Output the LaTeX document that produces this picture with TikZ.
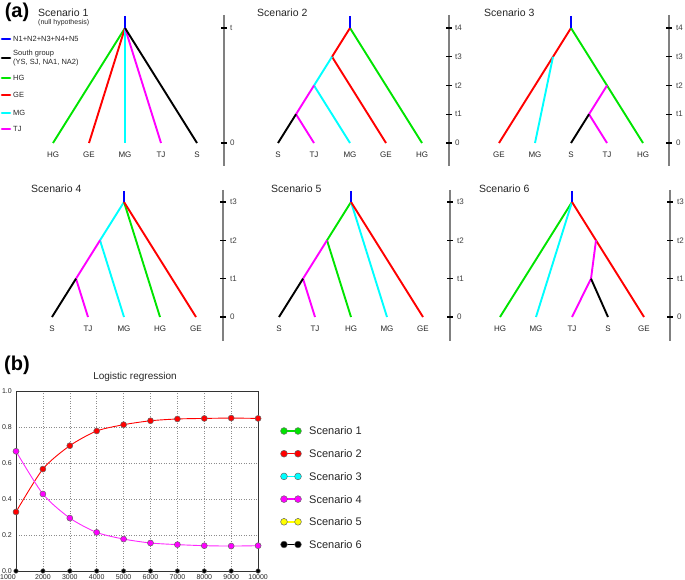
\documentclass[tikz,border=0pt]{standalone}
\usepackage{fontspec}
\setmainfont{Liberation Sans}
\usetikzlibrary{calc, positioning}
\definecolor{brgreen}{RGB}{0, 228, 0}
\definecolor{brred}{RGB}{255, 0, 0}
\definecolor{brcyan}{RGB}{0, 255, 255}
\definecolor{brmag}{RGB}{255, 0, 255}
\definecolor{brblue}{RGB}{0, 0, 255}
\definecolor{brylw}{RGB}{255, 255, 0}
\definecolor{axgray}{RGB}{128, 128, 128}
\tikzset{
  branch/.style={line width=1.9pt},
  swatch/.style={line width=2.6pt, line cap=round},
  axisline/.style={axgray, line width=1.2pt},
  tickmark/.style={black, line width=1.3pt},
  leaflab/.style={font=\fontsize{8}{9}\selectfont, inner sep=0pt, text=black!85},
  tlab/.style={font=\fontsize{8}{9}\selectfont, anchor=west, inner sep=0pt, text=black!75},
  ttl/.style={font=\fontsize{10.5}{12}\selectfont, anchor=west, inner sep=0pt, text=black!85},
  leg/.style={font=\fontsize{7.5}{8.5}\selectfont, anchor=west, inner sep=0pt, align=left, text=black!85},
  panel/.style={font=\fontsize{20}{22}\selectfont\bfseries, inner sep=0pt},
  gridline/.style={black!45, line width=0.5pt, dotted},
  frameline/.style={black!80, line width=0.9pt},
  ticklab/.style={font=\fontsize{7}{8}\selectfont, inner sep=0pt, text=black!85},
  dot/.style={circle, draw=black!60, line width=0.5pt, minimum size=6pt, inner sep=0pt},
  ldot/.style={circle, draw=black!60, line width=0.5pt, minimum size=6.8pt, inner sep=0pt},
  scen/.style={font=\fontsize{11}{13}\selectfont, inner sep=0pt, text=black!85}
}

\begin{document}
\begin{tikzpicture}[x=1pt, y=-1pt]
  \useasboundingbox (0,0) rectangle (685,580);

  % ---------- (a) ----------
  \node[panel] (pa) at (17,12) {(a)};

  % legend
  \node[ttl] (ttl1) at (38,13) {Scenario 1};
  \node[leg, font=\fontsize{7}{8}\selectfont] (nullh) at (38,23) {(null hypothesis)};
  \foreach \n/\y/\c/\t in {kn/39/brblue/N1+N2+N3+N4+N5, ks/58/black/{South group\\(YS, SJ, NA1, NA2)},
                            khg/78/brgreen/HG, kge/95/brred/GE, kmg/113/brcyan/MG, ktj/129/brmag/TJ} {
    \coordinate (\n a) at (2,\y);
    \coordinate (\n b) at (10,\y);
    \draw[swatch, \c] (\n a) -- (\n b);
    \node[leg] (\n t) at (13,\y) {\t};
  }

  % scenario 1
  \coordinate (r1) at (125,28);
  \coordinate (top1) at (125,16);
  \foreach \n/\x/\lab in {hg/53/HG, ge/89/GE, mg/125/MG, tj/161/TJ, s/197/S} {
    \coordinate (\n1) at (\x,143);
    \node[leaflab] (\n1l) at (\x,155) {\lab};
  }
  \draw[branch, brgreen] (r1) -- (hg1);
  \draw[branch, brred] (r1) -- (ge1);
  \draw[branch, brcyan] (r1) -- (mg1);
  \draw[branch, brmag] (r1) -- (tj1);
  \draw[branch, black] (r1) -- (s1);
  \draw[branch, brblue] (top1) -- (r1);
  \draw[axisline] (224,15) -- (224,166);
  \foreach \y/\lab in {28/t, 143/0} {
    \draw[tickmark] (221,\y) -- (227,\y);
    \node[tlab] (ax1\lab) at (230,\y) {\lab};
  }

  % scenario 2
  \node[ttl] (ttl2) at (257,13) {Scenario 2};
  \coordinate (r2) at (350,28);
  \coordinate (top2) at (350,16);
  \foreach \n/\x/\lab in {s/278/S, tj/314/TJ, mg/350/MG, ge/386/GE, hg/422/HG} {
    \coordinate (\n2) at (\x,143);
    \node[leaflab] (\n2l) at (\x,155) {\lab};
  }
  \coordinate (c2) at ($(r2)!.25!(s2)$);
  \coordinate (b2) at ($(r2)!.5!(s2)$);
  \coordinate (a2) at ($(r2)!.75!(s2)$);
  \draw[branch, brgreen] (r2) -- (hg2);
  \draw[branch, brred] (r2) -- (c2) -- (ge2);
  \draw[branch, brcyan] (c2) -- (b2) -- (mg2);
  \draw[branch, brmag] (b2) -- (a2) -- (tj2);
  \draw[branch, black] (a2) -- (s2);
  \draw[branch, brblue] (top2) -- (r2);
  \draw[axisline] (449,15) -- (449,166);
  \foreach \y/\lab in {28/t4, 56.75/t3, 85.5/t2, 114.25/t1, 143/0} {
    \draw[tickmark] (446,\y) -- (452,\y);
    \node[tlab] (ax2\lab) at (455,\y) {\lab};
  }

  % scenario 3
  \node[ttl] (ttl3) at (484,13) {Scenario 3};
  \coordinate (r3) at (571,28);
  \coordinate (top3) at (571,16);
  \foreach \n/\x/\lab in {ge/499/GE, mg/535/MG, s/571/S, tj/607/TJ, hg/643/HG} {
    \coordinate (\n3) at (\x,143);
    \node[leaflab] (\n3l) at (\x,155) {\lab};
  }
  \coordinate (c3) at ($(r3)!.25!(ge3)$);
  \coordinate (b3) at ($(r3)!.5!(hg3)$);
  \coordinate (a3) at ($(b3)!.5!(s3)$);
  \draw[branch, brred] (r3) -- (ge3);
  \draw[branch, brcyan] (c3) -- (mg3);
  \draw[branch, brgreen] (r3) -- (hg3);
  \draw[branch, brmag] (b3) -- (a3) -- (tj3);
  \draw[branch, black] (a3) -- (s3);
  \draw[branch, brblue] (top3) -- (r3);
  \draw[axisline] (669,15) -- (669,166);
  \foreach \y/\lab in {28/t4, 56.75/t3, 85.5/t2, 114.25/t1, 143/0} {
    \draw[tickmark] (666,\y) -- (672,\y);
    \node[tlab] (ax3\lab) at (676,\y) {\lab};
  }

  % scenario 4
  \node[ttl] (ttl4) at (31,189) {Scenario 4};
  \coordinate (r4) at (124,202);
  \coordinate (top4) at (124,191);
  \foreach \n/\x/\lab in {s/52/S, tj/88/TJ, mg/124/MG, hg/160/HG, ge/196/GE} {
    \coordinate (\n4) at (\x,317);
    \node[leaflab] (\n4l) at (\x,329) {\lab};
  }
  \coordinate (b4) at ($(r4)!1/3!(s4)$);
  \coordinate (a4) at ($(r4)!2/3!(s4)$);
  \draw[branch, brcyan] (r4) -- (b4) -- (mg4);
  \draw[branch, brmag] (b4) -- (a4) -- (tj4);
  \draw[branch, black] (a4) -- (s4);
  \draw[branch, brgreen] (r4) -- (hg4);
  \draw[branch, brred] (r4) -- (ge4);
  \draw[branch, brblue] (top4) -- (r4);
  \draw[axisline] (223,190) -- (223,341);
  \foreach \y/\lab in {202/t3, 240.3/t2, 278.7/t1, 317/0} {
    \draw[tickmark] (220,\y) -- (226,\y);
    \node[tlab] (ax4\lab) at (230,\y) {\lab};
  }

  % scenario 5
  \node[ttl] (ttl5) at (271,189) {Scenario 5};
  \coordinate (r5) at (351,202);
  \coordinate (top5) at (351,191);
  \foreach \n/\x/\lab in {s/279/S, tj/315/TJ, hg/351/HG, mg/387/MG, ge/423/GE} {
    \coordinate (\n5) at (\x,317);
    \node[leaflab] (\n5l) at (\x,329) {\lab};
  }
  \coordinate (b5) at ($(r5)!1/3!(s5)$);
  \coordinate (a5) at ($(r5)!2/3!(s5)$);
  \draw[branch, brgreen] (r5) -- (b5) -- (hg5);
  \draw[branch, brmag] (b5) -- (a5) -- (tj5);
  \draw[branch, black] (a5) -- (s5);
  \draw[branch, brcyan] (r5) -- (mg5);
  \draw[branch, brred] (r5) -- (ge5);
  \draw[branch, brblue] (top5) -- (r5);
  \draw[axisline] (450,190) -- (450,341);
  \foreach \y/\lab in {202/t3, 240.3/t2, 278.7/t1, 317/0} {
    \draw[tickmark] (447,\y) -- (453,\y);
    \node[tlab] (ax5\lab) at (457,\y) {\lab};
  }

  % scenario 6
  \node[ttl] (ttl6) at (479,189) {Scenario 6};
  \coordinate (r6) at (572,202);
  \coordinate (top6) at (572,191);
  \foreach \n/\x/\lab in {hg/500/HG, mg/536/MG, tj/572/TJ, s/608/S, ge/644/GE} {
    \coordinate (\n6) at (\x,317);
    \node[leaflab] (\n6l) at (\x,329) {\lab};
  }
  \coordinate (b6) at ($(r6)!1/3!(ge6)$);
  \coordinate (a6) at (591,278.7);
  \draw[branch, brgreen] (r6) -- (hg6);
  \draw[branch, brcyan] (r6) -- (mg6);
  \draw[branch, brred] (r6) -- (ge6);
  \draw[branch, brmag] (b6) -- (a6) -- (tj6);
  \draw[branch, black] (a6) -- (s6);
  \draw[branch, brblue] (top6) -- (r6);
  \draw[axisline] (670,190) -- (670,341);
  \foreach \y/\lab in {202/t3, 240.3/t2, 278.7/t1, 317/0} {
    \draw[tickmark] (667,\y) -- (673,\y);
    \node[tlab] (ax6\lab) at (677,\y) {\lab};
  }

  % ---------- (b) ----------
  \node[panel] (pb) at (17,365) {(b)};
  \node[font=\fontsize{10}{12}\selectfont, inner sep=0pt, text=black!85] (lrtitle) at (135,377) {Logistic regression};

  \begin{scope}[shift={(16,571)}, x=26.9pt, y=179.5pt]
    \foreach \i in {1,...,8}
      \draw[gridline] (\i,0) -- (\i,1);
    \foreach \v in {0.2,0.4,0.6,0.8}
      \draw[gridline] (0,\v) -- (9,\v);
    \draw[frameline] (0,0) rectangle (9,1);
    \foreach \k/\v/\t in {0/0/0.0, 1/0.2/0.2, 2/0.4/0.4, 3/0.6/0.6, 4/0.8/0.8, 5/1/1.0}
      \node[ticklab, anchor=east] (yl\k) at (-0.15,\v) {\t};
    \node[ticklab] (xl0) at (-0.3,-0.034) {1000};
    \foreach \i in {1,...,9} {
      \pgfmathtruncatemacro\num{(\i+1)*1000}
      \node[ticklab] (xl\i) at (\i,-0.034) {\num};
    }
    % scenario 2 (red)
    \draw[brred, line width=0.9pt] plot[smooth, tension=0.45] coordinates
      {(0,0.329) (1,0.568) (2,0.698) (3,0.78) (4,0.815) (5,0.837) (6,0.847) (7,0.85) (8,0.852) (9,0.85)};
    \foreach \i/\v in {0/0.329, 1/0.568, 2/0.698, 3/0.78, 4/0.815, 5/0.837, 6/0.847, 7/0.85, 8/0.852, 9/0.85}
      \node[dot, fill=brred] (rd\i) at (\i,\v) {};
    % scenario 4 (magenta)
    \draw[brmag!85!white, line width=0.9pt] plot[smooth, tension=0.45] coordinates
      {(0,0.667) (1,0.429) (2,0.295) (3,0.215) (4,0.178) (5,0.156) (6,0.147) (7,0.141) (8,0.139) (9,0.141)};
    \foreach \i/\v in {0/0.667, 1/0.429, 2/0.295, 3/0.215, 4/0.178, 5/0.156, 6/0.147, 7/0.141, 8/0.139, 9/0.141}
      \node[dot, fill=brmag] (md\i) at (\i,\v) {};
    % scenario 6 (black)
    \foreach \i in {0,...,9}
      \node[dot, fill=black, minimum size=4.5pt] (bd\i) at (\i,0) {};
  \end{scope}

  % legend
  \foreach \k/\c in {1/brgreen, 2/brred, 3/brcyan, 4/brmag, 5/brylw, 6/black} {
    \pgfmathsetmacro\yy{431+(\k-1)*22.7}
    \coordinate (la\k) at (284,\yy);
    \coordinate (lb\k) at (298,\yy);
    \draw[\c, line width=1.5pt] (la\k) -- (lb\k);
    \node[ldot, fill=\c] (da\k) at (la\k) {};
    \node[ldot, fill=\c] (db\k) at (lb\k) {};
    \node[scen, anchor=west] (lt\k) at (309,\yy) {Scenario \k};
  }
\end{tikzpicture}
\end{document}
